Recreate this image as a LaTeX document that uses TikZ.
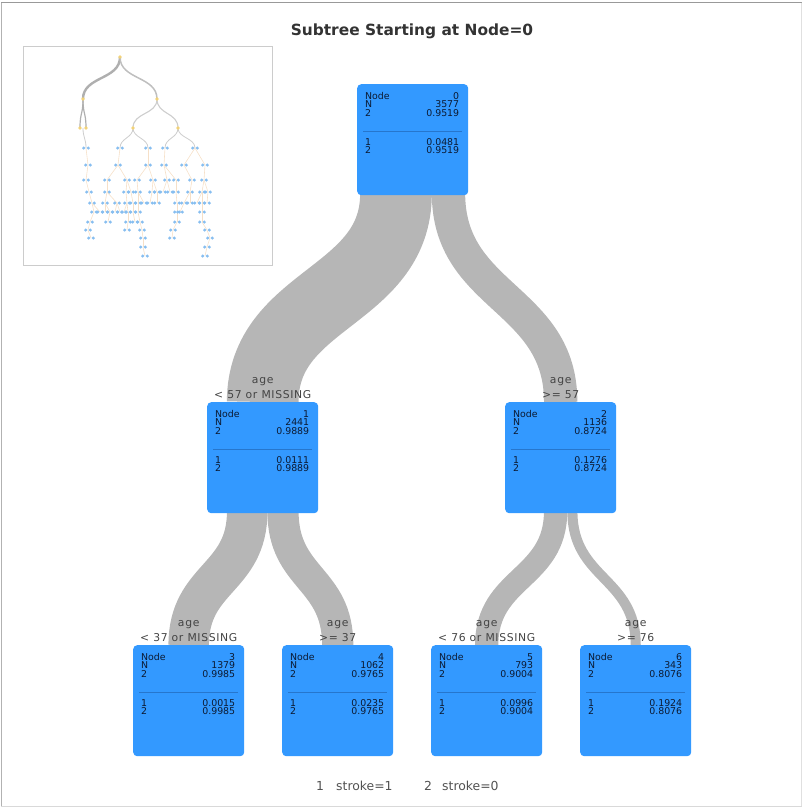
\documentclass[tikz,border=0pt]{standalone}
\usepackage{fontspec}
\setmainfont{DejaVu Sans}
\newfontfamily\lblfont[LetterSpace=6]{DejaVu Sans}
\usetikzlibrary{calc}
\definecolor{nodeblue}{RGB}{51,153,255}
\definecolor{divblue}{RGB}{38,118,205}
\definecolor{bandgray}{RGB}{182,182,182}
\definecolor{txtnavy}{RGB}{12,26,50}
\definecolor{lblgray}{RGB}{68,68,68}
\definecolor{minblue}{RGB}{135,190,240}
\definecolor{minyel}{RGB}{242,210,120}
\definecolor{minfaint}{RGB}{246,224,200}
\definecolor{minlgray}{RGB}{205,205,205}
\definecolor{mingray}{RGB}{175,175,175}
\pgfdeclarelayer{bg}
\pgfsetlayers{bg,main}
\tikzset{
  tbox/.style={rectangle, rounded corners=4pt, fill=nodeblue, draw=none,
    minimum width=111pt, minimum height=111pt, inner sep=0pt},
  ttxt/.style={inner sep=0pt, text=txtnavy, font=\fontsize{9.4}{10}\selectfont},
  divider/.style={draw=divblue, line width=0.6pt},
  band/.style={draw=bandgray},
  lbl/.style={inner sep=0pt, text=lblgray, font=\lblfont\fontsize{10.8}{12}\selectfont},
  ttl/.style={inner sep=0pt, text=black!80, font=\bfseries\fontsize{15.4}{18}\selectfont},
  leg/.style={inner sep=0pt, text=black!68, font=\fontsize{12.4}{14}\selectfont},
  mfaint/.style={draw=minfaint, line width=0.6pt},
}
\newcommand\tnode[8]{%
  \node[tbox, anchor=north west] (#1) at (#2,#3) {};
  \draw[divider] ([xshift=6pt,yshift=-47.5pt]#1.north west) -- ([xshift=-6pt,yshift=-47.5pt]#1.north east);
  \node[ttxt, anchor=base west] (#1-k1) at ([xshift=8pt,yshift=-15.5pt]#1.north west) {Node};
  \node[ttxt, anchor=base west] (#1-k2) at ([xshift=8pt,yshift=-23.8pt]#1.north west) {N};
  \node[ttxt, anchor=base west] (#1-k3) at ([xshift=8pt,yshift=-32.1pt]#1.north west) {2};
  \node[ttxt, anchor=base west] (#1-k4) at ([xshift=8pt,yshift=-61.4pt]#1.north west) {1};
  \node[ttxt, anchor=base west] (#1-k5) at ([xshift=8pt,yshift=-69.6pt]#1.north west) {2};
  \node[ttxt, anchor=base east] (#1-v1) at ([xshift=-9pt,yshift=-15.5pt]#1.north east) {#4};
  \node[ttxt, anchor=base east] (#1-v2) at ([xshift=-9pt,yshift=-23.8pt]#1.north east) {#5};
  \node[ttxt, anchor=base east] (#1-v3) at ([xshift=-9pt,yshift=-32.1pt]#1.north east) {#6};
  \node[ttxt, anchor=base east] (#1-v4) at ([xshift=-9pt,yshift=-61.4pt]#1.north east) {#7};
  \node[ttxt, anchor=base east] (#1-v5) at ([xshift=-9pt,yshift=-69.6pt]#1.north east) {#8};
}
\newcommand\splitlbl[2]{%
  \node[lbl, anchor=base] (#1-age) at ([yshift=19pt]#1.north) {age};
  \node[lbl, anchor=base] (#1-cond) at ([yshift=4pt]#1.north) {#2};
}
\begin{document}
\begin{tikzpicture}[x=1pt,y=-1pt]
\useasboundingbox (0,0) rectangle (803,807);
% outer frame
\draw[black!40, line width=1.2pt] (1,2.5) -- (802,2.5);
\draw[black!30, line width=1pt] (1.5,2.5) -- (1.5,806);
\draw[black!15, line width=1pt] (1,806) -- (802,806);
\draw[black!12, line width=0.8pt] (801.5,2.5) -- (801.5,806);

% title
\node[ttl, anchor=base] (title) at (412,35) {Subtree Starting at Node=0};

% inset overview
\draw[black!20, line width=0.8pt] (23,46) rectangle (272,265);
\draw[mingray, line width=2.4pt] (120,57) .. controls (120,80) and (83,76) .. (83,99);
\draw[mingray!80, line width=1.5pt] (120,57) .. controls (120,80) and (157,76) .. (157,99);
\draw[mingray, line width=1.2pt] (83,99) .. controls (83,115) and (80,112) .. (80,128);
\draw[mingray, line width=1.2pt] (83,99) .. controls (83,115) and (86,112) .. (86,128);
\draw[minlgray, line width=1.1pt] (157,99) .. controls (157,115) and (133,112) .. (133,128);
\draw[minlgray, line width=1.1pt] (157,99) .. controls (157,115) and (178,112) .. (178,128);
\foreach \x/\y/\px/\py in {86/148/83/128, 120/148/133/128, 148/148/133/128, 165/148/178/128, 195/148/178/128}
  {\draw[minlgray, line width=0.8pt] (\px,\py) .. controls (\px,\py+10) and (\x,\y-10) .. (\x,\y);}
\foreach \x/\y/\px/\py in {
  88/165/86/148, 118/165/120/148, 148/165/148/148, 164/165/165/148, 184/165/195/148, 205/165/195/148,
  86/180/88/165, 107/180/118/165, 127/180/118/165, 137/180/148/165, 153/180/148/165, 167/180/164/165, 176/180/164/165, 192/180/184/165, 204/180/205/165,
  89/192/86/180, 107/192/107/180, 126/192/127/180, 131/192/127/180, 138/192/137/180, 152/192/153/180, 157/192/153/180, 163/192/167/180, 170/192/167/180, 176/192/176/180, 190/192/192/180, 202/192/204/180, 208/192/204/180,
  92/203/89/192, 105/203/107/192, 117/203/107/192, 127/203/126/192, 133/203/131/192, 138/203/138/192, 144/203/138/192, 150/203/152/192, 157/203/157/192, 177/203/176/192, 184/203/190/192, 190/203/190/192, 197/203/202/192, 202/203/202/192, 207/203/208/192,
  94/212/92/203, 100/212/92/203, 105/212/105/203, 110/212/105/203, 115/212/117/203, 120/212/117/203, 124/212/127/203, 128/212/127/203, 133/212/133/203, 138/212/138/203, 177/212/177/203, 180/212/184/203, 202/212/202/203,
  90/222/94/212, 108/222/110/212, 128/222/128/212, 135/222/133/212, 140/222/138/212, 177/222/177/212, 202/222/202/212,
  88/230/90/222, 127/230/128/222, 142/230/140/222, 173/230/177/222, 207/230/202/222,
  91/238/88/230, 143/238/142/230, 172/238/173/230, 210/238/207/230,
  143/247/143/238, 207/247/210/238,
  145/256/143/247, 205/256/207/247}
  {\draw[mfaint] (\px,\py) -- (\x,\y);}
\foreach \x/\y in {86/148, 120/148, 148/148, 165/148, 195/148,
  88/165, 118/165, 148/165, 164/165, 184/165, 205/165,
  86/180, 107/180, 127/180, 137/180, 153/180, 167/180, 176/180, 192/180, 204/180,
  89/192, 107/192, 126/192, 131/192, 138/192, 152/192, 157/192, 163/192, 170/192, 176/192, 190/192, 202/192, 208/192,
  92/203, 105/203, 117/203, 127/203, 133/203, 138/203, 144/203, 150/203, 157/203, 177/203, 184/203, 190/203, 197/203, 202/203, 207/203,
  94/212, 100/212, 105/212, 110/212, 115/212, 120/212, 124/212, 128/212, 133/212, 138/212, 177/212, 180/212, 202/212,
  90/222, 108/222, 128/222, 135/222, 140/222, 177/222, 202/222,
  88/230, 127/230, 142/230, 173/230, 207/230,
  91/238, 143/238, 172/238, 210/238,
  143/247, 207/247,
  145/256, 205/256}
  {\fill[minblue] (\x-2.3,\y) circle (1.7pt); \fill[minblue] (\x+2.3,\y) circle (1.7pt);}
\foreach \x/\y in {120/57, 83/99, 157/99, 80/128, 86/128, 133/128, 178/128}
  {\fill[minyel] (\x,\y) circle (1.8pt);}

% tree nodes
\tnode{n0}{357}{84}{0}{3577}{0.9519}{0.0481}{0.9519}
\tnode{n1}{207}{402}{1}{2441}{0.9889}{0.0111}{0.9889}
\tnode{n2}{505}{402}{2}{1136}{0.8724}{0.1276}{0.8724}
\tnode{n3}{133}{645}{3}{1379}{0.9985}{0.0015}{0.9985}
\tnode{n4}{282}{645}{4}{1062}{0.9765}{0.0235}{0.9765}
\tnode{n5}{431}{645}{5}{793}{0.9004}{0.0996}{0.9004}
\tnode{n6}{580}{645}{6}{343}{0.8076}{0.1924}{0.8076}

% split labels
\splitlbl{n1}{< 57 or MISSING}
\splitlbl{n2}{>= 57}
\splitlbl{n3}{< 37 or MISSING}
\splitlbl{n4}{>= 37}
\splitlbl{n5}{< 76 or MISSING}
\splitlbl{n6}{>= 76}

% bands
\begin{pgfonlayer}{bg}
\draw[band, line width=71.65pt] ([xshift=-16.7pt,yshift=2pt]n0.south) .. controls +(0,105) and +(0,-105) .. (n1.north);
\draw[band, line width=33.35pt] ([xshift=35.8pt,yshift=2pt]n0.south) .. controls +(0,105) and +(0,-105) .. (n2.north);
\draw[band, line width=40.5pt] ([xshift=-15.5pt,yshift=2pt]n1.south) .. controls +(0,68) and +(0,-68) .. (n3.north);
\draw[band, line width=31.2pt] ([xshift=20.3pt,yshift=2pt]n1.south) .. controls +(0,68) and +(0,-68) .. (n4.north);
\draw[band, line width=23.3pt] ([xshift=-5.1pt,yshift=2pt]n2.south) .. controls +(0,68) and +(0,-68) .. (n5.north);
\draw[band, line width=10.1pt] ([xshift=11.7pt,yshift=2pt]n2.south) .. controls +(0,68) and +(0,-68) .. (n6.north);
\end{pgfonlayer}

% legend
\node[leg, anchor=base] (lg1) at (320,790) {1};
\node[leg, anchor=base west] (lg1t) at (336,790) {stroke=1};
\node[leg, anchor=base] (lg2) at (428,790) {2};
\node[leg, anchor=base west] (lg2t) at (442,790) {stroke=0};
\end{tikzpicture}
\end{document}
